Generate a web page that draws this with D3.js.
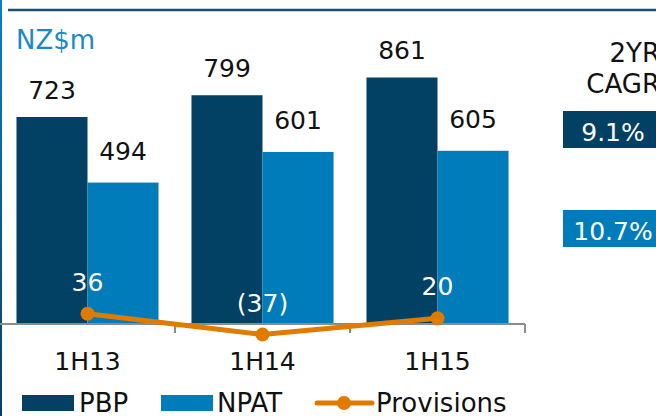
<!DOCTYPE html>
<html>
<head>
<meta charset="utf-8">
<script src="https://cdn.jsdelivr.net/npm/d3@7"></script>
<style>
  body { margin: 0; background: #fff; overflow: hidden; }
  text { font-family: "DejaVu Sans", sans-serif; }
</style>
</head>
<body>
<script>
// Chart data
var categories = ["1H13", "1H14", "1H15"];
var seriesNames = ["PBP", "NPAT"];
var pbp = [723, 799, 861];
var npat = [494, 601, 605];
var provisions = [36, -37, 20];
var provisionLabels = ["36", "(37)", "20"];
var cagrLabels = ["9.1%", "10.7%"];

var colors = {PBP: "#024064", NPAT: "#017cba", line: "#df7b00"};

var width = 656, height = 416;

var svg = d3.select("body").append("svg")
    .attr("width", width)
    .attr("height", height);

// Left border with gradient
var grad = svg.append("defs").append("linearGradient")
    .attr("id", "edge")
    .attr("x1", 0).attr("y1", 0).attr("x2", 0).attr("y2", 1);
grad.append("stop").attr("offset", "0%").attr("stop-color", "#0a80c2");
grad.append("stop").attr("offset", "100%").attr("stop-color", "#0b3d62");
svg.append("rect")
    .attr("x", 0).attr("y", 0)
    .attr("width", 2).attr("height", height)
    .attr("fill", "url(#edge)");

// Top rule
svg.append("line")
    .attr("x1", 8).attr("x2", width)
    .attr("y1", 10).attr("y2", 10)
    .attr("stroke", "#1b4f74")
    .attr("stroke-width", 2.5);

// Unit label
svg.append("text")
    .attr("x", 16).attr("y", 49)
    .attr("fill", "#1a8ac6")
    .style("font-size", "26px")
    .text("NZ$m");

// Scales
var x = d3.scaleBand()
    .domain(categories)
    .range([0, 525]);

var xs = d3.scaleBand()
    .domain(seriesNames)
    .range([0, x.bandwidth()])
    .paddingOuter(0.232);

var y = d3.scaleLinear()
    .domain([0, 1000])
    .range([324, 37.7]);

var rows = categories.map(function(c, i) {
    return {cat: c, PBP: pbp[i], NPAT: npat[i], prov: provisions[i], provLabel: provisionLabels[i]};
});

// Bars
var groups = svg.selectAll(".cat")
    .data(rows)
    .enter().append("g")
    .attr("class", "cat")
    .attr("transform", d => "translate(" + x(d.cat) + ",0)");

groups.selectAll("rect")
    .data(d => seriesNames.map(s => ({key: s, value: d[s]})))
    .enter().append("rect")
    .attr("x", d => xs(d.key))
    .attr("width", xs.bandwidth())
    .attr("y", d => y(d.value))
    .attr("height", d => y(0) - y(d.value))
    .attr("fill", d => colors[d.key]);

// Bar value labels (NPAT labels sit a bit higher)
groups.selectAll(".val")
    .data(d => seriesNames.map(s => ({key: s, value: d[s]})))
    .enter().append("text")
    .attr("class", "val")
    .attr("x", d => xs(d.key) + xs.bandwidth() / 2)
    .attr("y", d => y(d.value) - (d.key === "PBP" ? 18 : 23))
    .attr("text-anchor", "middle")
    .style("font-size", "25px")
    .attr("fill", "#111")
    .text(d => d.value);

// Category axis with ticks between groups
var axis = svg.append("g");
axis.append("line")
    .attr("x1", x.range()[0]).attr("x2", x.range()[1])
    .attr("y1", y(0)).attr("y2", y(0))
    .attr("stroke", "#8c8c8c")
    .attr("stroke-width", 2);
axis.selectAll(".tick")
    .data(categories)
    .enter().append("line")
    .attr("x1", d => x(d) + x.bandwidth())
    .attr("x2", d => x(d) + x.bandwidth())
    .attr("y1", y(0)).attr("y2", y(0) + 9)
    .attr("stroke", "#8c8c8c")
    .attr("stroke-width", 2);
axis.selectAll(".cat-label")
    .data(categories)
    .enter().append("text")
    .attr("x", d => x(d) + x.bandwidth() / 2)
    .attr("y", 370)
    .attr("text-anchor", "middle")
    .style("font-size", "25px")
    .attr("fill", "#111")
    .text(d => d);

// Provisions line
var lineX = d => x(d.cat) + x.bandwidth() / 2;
var line = d3.line()
    .x(lineX)
    .y(d => y(d.prov));

svg.append("path")
    .datum(rows)
    .attr("d", line)
    .attr("fill", "none")
    .attr("stroke", colors.line)
    .attr("stroke-width", 5);

svg.selectAll(".dot")
    .data(rows)
    .enter().append("circle")
    .attr("cx", lineX)
    .attr("cy", d => y(d.prov))
    .attr("r", 7)
    .attr("fill", colors.line);

svg.selectAll(".prov-label")
    .data(rows)
    .enter().append("text")
    .attr("x", lineX)
    .attr("y", d => y(d.prov) - 23)
    .attr("text-anchor", "middle")
    .style("font-size", "25px")
    .attr("fill", "#fff")
    .text(d => d.provLabel);

// CAGR panel
svg.append("text")
    .attr("x", 660).attr("y", 62)
    .attr("text-anchor", "end")
    .style("font-size", "26px")
    .attr("fill", "#111")
    .text("2YR");
svg.append("text")
    .attr("x", 660).attr("y", 93)
    .attr("text-anchor", "end")
    .style("font-size", "26px")
    .attr("fill", "#111")
    .text("CAGR");

var cagrBoxes = svg.selectAll(".cagr")
    .data(seriesNames.map((s, i) => ({key: s, label: cagrLabels[i], i: i})))
    .enter().append("g")
    .attr("transform", d => "translate(563," + (111 + d.i * 99) + ")");
cagrBoxes.append("rect")
    .attr("width", 100).attr("height", 37)
    .attr("fill", d => colors[d.key]);
cagrBoxes.append("text")
    .attr("x", 50).attr("y", 30)
    .attr("text-anchor", "middle")
    .style("font-size", "25px")
    .attr("fill", "#fff")
    .text(d => d.label);

// Legend
var legend = svg.append("g").attr("transform", "translate(0,403)");
legend.append("rect").attr("x", 22).attr("y", -8).attr("width", 52).attr("height", 16).attr("fill", colors.PBP);
legend.append("text").attr("x", 79).attr("y", 9).style("font-size", "26px").attr("fill", "#111").text("PBP");
legend.append("rect").attr("x", 161).attr("y", -8).attr("width", 52).attr("height", 16).attr("fill", colors.NPAT);
legend.append("text").attr("x", 217).attr("y", 9).style("font-size", "26px").attr("fill", "#111").text("NPAT");
legend.append("line").attr("x1", 317).attr("x2", 372).attr("y1", 0).attr("y2", 0)
    .attr("stroke", colors.line).attr("stroke-width", 5).attr("stroke-linecap", "round");
legend.append("circle").attr("cx", 344).attr("cy", 0).attr("r", 7).attr("fill", colors.line);
legend.append("text").attr("x", 376).attr("y", 9).style("font-size", "26px").attr("fill", "#111").text("Provisions");
</script>
</body>
</html>
